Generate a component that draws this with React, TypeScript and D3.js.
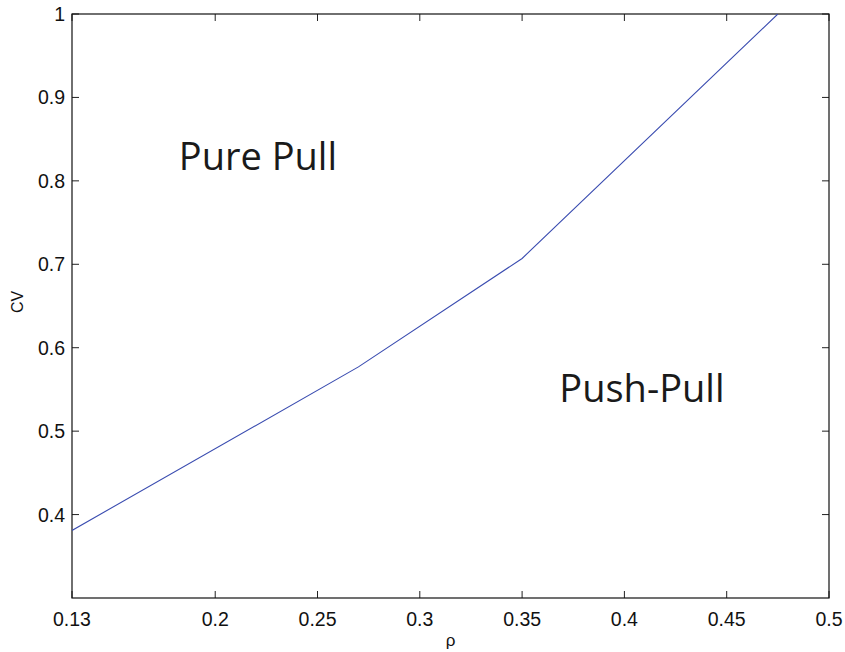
import React from "react";
import * as d3 from "d3";

// Boundary curve between the two policy regions
const rhoValues = [0.13, 0.27, 0.35, 0.475];
const cvValues = [0.381, 0.577, 0.707, 1.0];

const xTicks = [0.13, 0.2, 0.25, 0.3, 0.35, 0.4, 0.45, 0.5];
const yTicks = [0.4, 0.5, 0.6, 0.7, 0.8, 0.9, 1.0];

const regionLabels = [
  { text: "Pure Pull", rho: 0.1822, cv: 0.813 },
  { text: "Push-Pull", rho: 0.3682, cv: 0.535 },
];

const W = 845;
const H = 652;
const M = { left: 72, right: 16, top: 14, bottom: 54 };

export default function App() {
  const x = d3.scaleLinear().domain([0.13, 0.5]).range([M.left, W - M.right]);
  const y = d3.scaleLinear().domain([0.3, 1.0]).range([H - M.bottom, M.top]);
  const pts = rhoValues.map((r, i) => [r, cvValues[i]] as [number, number]);
  const line = d3
    .line<[number, number]>()
    .x((d) => x(d[0]))
    .y((d) => y(d[1]));

  const x0 = x.range()[0];
  const x1 = x.range()[1];
  const y0 = y.range()[0];
  const y1 = y.range()[1];
  const tl = 7;
  const tickFont = "'Liberation Sans', Arial, Helvetica, sans-serif";

  return (
    <svg
      width={W}
      height={H}
      style={{ position: "absolute", left: 0, top: 0, background: "#fff" }}
    >
      <defs>
        <clipPath id="plot">
          <rect x={x0} y={y1} width={x1 - x0} height={y0 - y1} />
        </clipPath>
      </defs>
      <rect x={0} y={0} width={W} height={H} fill="#fff" />

      {/* x ticks, bottom and top */}
      {xTicks.map((t) => (
        <g key={"x" + t}>
          <line x1={x(t)} x2={x(t)} y1={y0} y2={y0 - tl} stroke="#222" strokeWidth={1} />
          <line x1={x(t)} x2={x(t)} y1={y1} y2={y1 + tl} stroke="#222" strokeWidth={1} />
          <text
            x={x(t)}
            y={y0 + 28}
            textAnchor="middle"
            fontFamily={tickFont}
            fontSize={19.5}
            fill="#111"
          >
            {String(t)}
          </text>
        </g>
      ))}

      {/* y ticks, left and right */}
      {yTicks.map((t) => (
        <g key={"y" + t}>
          <line x1={x0} x2={x0 + tl} y1={y(t)} y2={y(t)} stroke="#222" strokeWidth={1} />
          <line x1={x1} x2={x1 - tl} y1={y(t)} y2={y(t)} stroke="#222" strokeWidth={1} />
          <text
            x={x0 - 7}
            y={y(t) + 7}
            textAnchor="end"
            fontFamily={tickFont}
            fontSize={19.5}
            fill="#111"
          >
            {t === 1 ? "1" : String(t)}
          </text>
        </g>
      ))}

      {/* axis box */}
      <rect
        x={x0}
        y={y1}
        width={x1 - x0}
        height={y0 - y1}
        fill="none"
        stroke="#111"
        strokeWidth={1.2}
      />

      <path
        d={line(pts) || ""}
        fill="none"
        stroke="#3a4cb0"
        strokeWidth={1.1}
        clipPath="url(#plot)"
      />

      {regionLabels.map((l) => (
        <text
          key={l.text}
          x={x(l.rho)}
          y={y(l.cv)}
          fontFamily="'Open Sans', 'Noto Sans', sans-serif"
          fontSize={38}
          fill="#1a1a1a"
        >
          {l.text}
        </text>
      ))}

      {/* axis titles */}
      <text
        x={(x0 + x1) / 2}
        y={y0 + 48}
        textAnchor="middle"
        fontFamily={tickFont}
        fontSize={17}
        fill="#111"
      >
        ρ
      </text>
      <text
        transform={`translate(${23}, ${(y0 + y1) / 2 - 4}) rotate(-90)`}
        textAnchor="middle"
        fontFamily={tickFont}
        fontSize={16}
        fill="#111"
      >
        CV
      </text>
    </svg>
  );
}
